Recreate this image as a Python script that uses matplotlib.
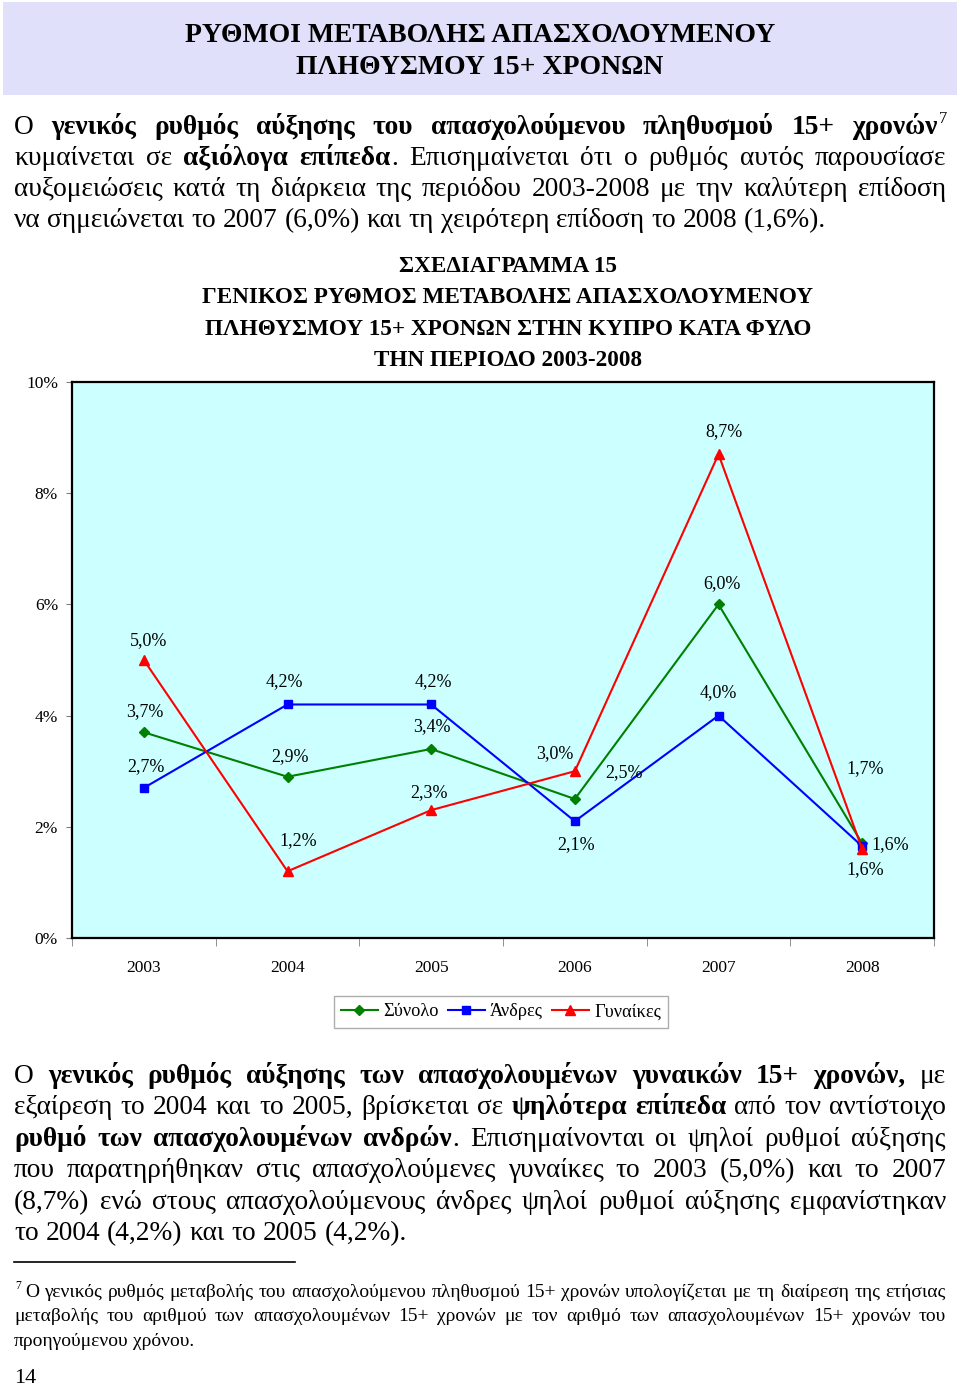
# Ρυθμοί μεταβολής απασχολούμενου πληθυσμού 15+ - σελίδα με διάγραμμα
import numpy as np
import matplotlib
matplotlib.use('Agg')
from matplotlib import pyplot as plt
from matplotlib.patches import Rectangle
from matplotlib.lines import Line2D

W, H = 960, 1387
plt.rcParams['font.family'] = ['Liberation Serif', 'DejaVu Serif']

# δεδομένα
years = ['2003', '2004', '2005', '2006', '2007', '2008']
total = [3.7, 2.9, 3.4, 2.5, 6.0, 1.7]
men = [2.7, 4.2, 4.2, 2.1, 4.0, 1.65]
women = [5.0, 1.2, 2.3, 3.0, 8.7, 1.6]
total_lbl = ['3,7%', '2,9%', '3,4%', '2,5%', '6,0%', '1,7%']
men_lbl = ['2,7%', '4,2%', '4,2%', '2,1%', '4,0%', '1,6%']
women_lbl = ['5,0%', '1,2%', '2,3%', '3,0%', '8,7%', '1,6%']
yticks = [0, 2, 4, 6, 8, 10]

# μετατόπιση ετικετών (pixels)
total_off = [(1, 21), (3, 20), (1, 22), (49, 26), (3, 21), (3, 75)]
men_off = [(2, 21), (-3, 23), (2, 23), (1, -23), (0, 23), (28, 2)]
women_off = [(5, 19), (11, 31), (-2, 18), (-20, 18), (5, 23), (3, -21)]

par1 = [
    "Ο **γενικός ρυθμός αύξησης του απασχολούμενου πληθυσμού 15+ χρονών**^7",
    "κυμαίνεται σε **αξιόλογα επίπεδα**. Επισημαίνεται ότι ο ρυθμός αυτός παρουσίασε",
    "αυξομειώσεις κατά τη διάρκεια της περιόδου 2003-2008 με την καλύτερη επίδοση",
    "να σημειώνεται το 2007 (6,0%) και τη χειρότερη επίδοση το 2008 (1,6%).",
]
par2 = [
    "Ο **γενικός ρυθμός αύξησης των απασχολουμένων γυναικών 15+ χρονών,** με",
    "εξαίρεση το 2004 και το 2005, βρίσκεται σε **ψηλότερα επίπεδα** από τον αντίστοιχο",
    "**ρυθμό των απασχολουμένων ανδρών**. Επισημαίνονται οι ψηλοί ρυθμοί αύξησης",
    "που παρατηρήθηκαν στις απασχολούμενες γυναίκες το 2003 (5,0%) και το 2007",
    "(8,7%) ενώ στους απασχολούμενους άνδρες ψηλοί ρυθμοί αύξησης εμφανίστηκαν",
    "το 2004 (4,2%) και το 2005 (4,2%).",
]
foot = [
    "^7 Ο γενικός ρυθμός μεταβολής του απασχολούμενου πληθυσμού 15+ χρονών υπολογίζεται με τη διαίρεση της ετήσιας",
    "μεταβολής του αριθμού των απασχολουμένων 15+ χρονών με τον αριθμό των απασχολουμένων 15+ χρονών του",
    "προηγούμενου χρόνου.",
]

fig = plt.figure(figsize=(W / 100, H / 100), dpi=100)
renderer = fig.canvas.get_renderer()


def fx(x):
    return x / W


def fy(y):
    return 1 - y / H


def parse(line):
    words = []
    bold = False
    for w in line.split(' '):
        pieces = []
        for i, p in enumerate(w.split('**')):
            if i > 0:
                bold = not bold
            if p:
                pieces.append((p, bold))
        words.append(pieces)
    return words


def width(s, size, bold):
    t = fig.text(0, 0, s, fontsize=size, fontweight='bold' if bold else 'normal')
    w = t.get_window_extent(renderer).width
    t.remove()
    return w


def paragraph(lines, baselines, size, x0=14, x1=946):
    for i, (line, yb) in enumerate(zip(lines, baselines)):
        words = parse(line)
        ws = []
        for w in words:
            tot = 0
            for s, b in w:
                if s.startswith('^'):
                    tot += width(s[1:], size * 0.6, b)
                else:
                    tot += width(s, size, b)
            ws.append(tot)
        if i < len(lines) - 1:
            gap = (x1 - x0 - sum(ws)) / (len(words) - 1)
        else:
            gap = size * 100 / 72 * 0.25
        x = x0
        for w, ww in zip(words, ws):
            xx = x
            for s, b in w:
                if s.startswith('^'):
                    fig.text(fx(xx + 1), fy(yb - size * 0.55), s[1:], fontsize=size * 0.6,
                             fontweight='bold' if b else 'normal', va='baseline')
                    xx += width(s[1:], size * 0.6, b)
                else:
                    fig.text(fx(xx), fy(yb), s, fontsize=size,
                             fontweight='bold' if b else 'normal', va='baseline')
                    xx += width(s, size, b)
            x += ww + gap


# κεφαλίδα
fig.patches.append(Rectangle((fx(3), fy(95)), fx(954), 93 / H, transform=fig.transFigure,
                             facecolor='#E0E0FA', edgecolor='none'))
fig.text(fx(480), fy(42), "ΡΥΘΜΟΙ ΜΕΤΑΒΟΛΗΣ ΑΠΑΣΧΟΛΟΥΜΕΝΟΥ", fontsize=20,
         fontweight='bold', ha='center', va='baseline')
fig.text(fx(480), fy(74), "ΠΛΗΘΥΣΜΟΥ 15+ ΧΡΟΝΩΝ", fontsize=20,
         fontweight='bold', ha='center', va='baseline')

paragraph(par1, [134, 165, 196, 227], 19.7)

# τίτλος διαγράμματος
titles = ["ΣΧΕΔΙΑΓΡΑΜΜΑ 15", "ΓΕΝΙΚΟΣ ΡΥΘΜΟΣ ΜΕΤΑΒΟΛΗΣ ΑΠΑΣΧΟΛΟΥΜΕΝΟΥ",
          "ΠΛΗΘΥΣΜΟΥ 15+ ΧΡΟΝΩΝ ΣΤΗΝ ΚΥΠΡΟ ΚΑΤΑ ΦΥΛΟ", "ΤΗΝ ΠΕΡΙΟΔΟ 2003-2008"]
for t, yb in zip(titles, [272, 303, 335, 366]):
    fig.text(fx(508), fy(yb), t, fontsize=16.7, fontweight='bold', ha='center', va='baseline')

# διάγραμμα
ax = fig.add_axes([fx(72), fy(938), fx(862), 556 / H])
ax.set_facecolor('#CCFFFF')
x = np.arange(len(years))
ax.plot(x, total, color='#008000', marker='D', ms=5, lw=1.5, label='Σύνολο')
ax.plot(x, men, color='#0000FF', marker='s', ms=5.5, lw=1.5, label='Άνδρες')
ax.plot(x, women, color='#FF0000', marker='^', ms=6.5, lw=1.5, label='Γυναίκες')

for vals, lbls, offs in [(total, total_lbl, total_off), (men, men_lbl, men_off),
                         (women, women_lbl, women_off)]:
    for xi, v, l, o in zip(x, vals, lbls, offs):
        ax.annotate(l, (xi, v), xytext=o, textcoords='offset pixels',
                    ha='center', va='center', fontsize=13)

ax.set_xlim(-0.5, len(years) - 0.5)
ax.set_ylim(0, 10)
ax.set_yticks(yticks)
ax.set_yticklabels(["{}%".format(v) for v in yticks])
ax.set_xticks(x)
ax.set_xticklabels(years)
ax.set_xticks(np.arange(-0.5, len(years), 1), minor=True)
ax.tick_params(axis='y', length=4, color='gray', pad=6, labelsize=12.5)
ax.tick_params(axis='x', which='major', length=0, pad=15.5, labelsize=12.5)
ax.tick_params(axis='x', which='minor', length=6, color='gray')
for s in ax.spines.values():
    s.set_linewidth(1.6)
    s.set_color('black')

fig.legend(loc='center', bbox_to_anchor=(fx(501), fy(1012)), ncol=3, frameon=True,
           fancybox=False, edgecolor='#999999', fontsize=13.2, handlelength=2.0,
           columnspacing=0.5, handletextpad=0.3, borderpad=0.4)

paragraph(par2, [1083, 1114, 1146, 1177, 1209, 1240], 19.7)

# υποσημείωση
fig.add_artist(Line2D([fx(14), fx(295)], [fy(1262), fy(1262)], color='black', lw=1.2))
paragraph(foot, [1297, 1321, 1346], 14)
fig.text(fx(14), fy(1383), "14", fontsize=16, va='baseline')

plt.savefig("out.png", dpi=100)
